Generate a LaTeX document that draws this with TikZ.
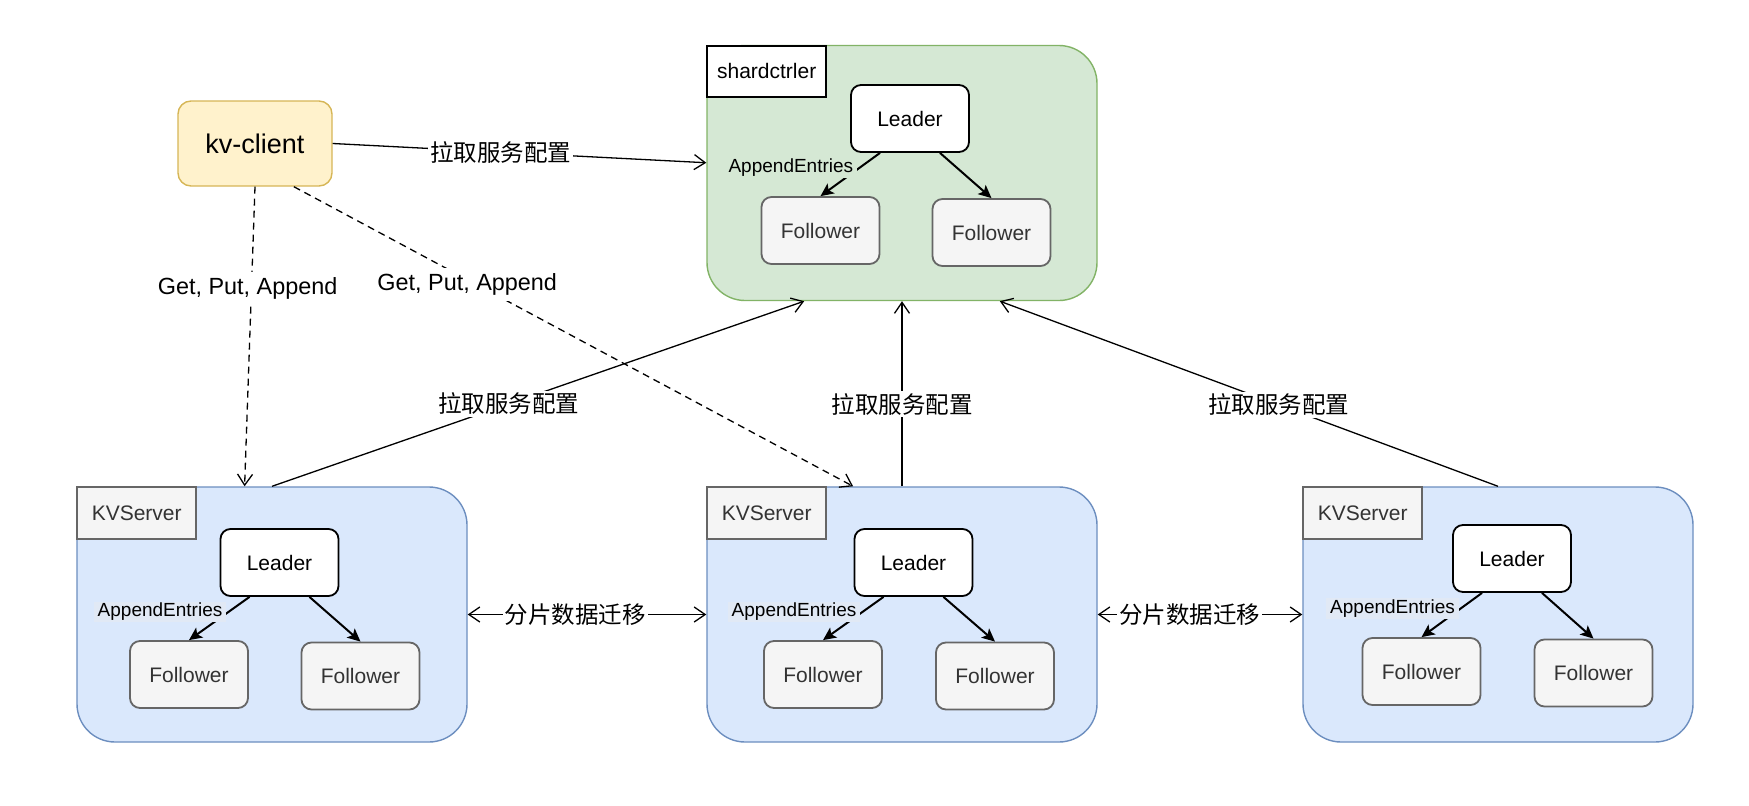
\documentclass[tikz,border=0pt]{standalone}
\usepackage{fontspec}
\setmainfont{Liberation Sans}
\newfontfamily\cjk{Noto Sans CJK SC}
\usetikzlibrary{arrows.meta,calc}

\definecolor{ctrlfill}{HTML}{D5E8D4}
\definecolor{ctrldraw}{HTML}{82B366}
\definecolor{srvfill}{HTML}{DAE8FC}
\definecolor{srvdraw}{HTML}{6C8EBF}
\definecolor{greyfill}{HTML}{F5F5F5}
\definecolor{greydraw}{HTML}{666666}
\definecolor{greytext}{HTML}{333333}
\definecolor{clientfill}{HTML}{FFF2CC}
\definecolor{clientdraw}{HTML}{D6B656}
\definecolor{entrybg}{HTML}{E1E9F5}

\tikzstyle{group}=[draw, line width=1.4pt, rounded corners=38pt, minimum width=390pt, minimum height=255pt, inner sep=0pt]
\tikzstyle{tag}=[draw, line width=1.8pt, anchor=north west, minimum width=119pt, minimum height=52pt, inner sep=0pt, font=\fontsize{21}{25}\selectfont]
\tikzstyle{leader}=[draw, fill=white, line width=1.8pt, rounded corners=10pt, minimum width=118pt, minimum height=67pt, inner sep=0pt, font=\fontsize{21}{25}\selectfont]
\tikzstyle{follower}=[leader, draw=greydraw, fill=greyfill, text=greytext]
\tikzstyle{client}=[draw=clientdraw, fill=clientfill, line width=1.4pt, rounded corners=13pt, minimum width=154pt, minimum height=85pt, inner sep=0pt, font=\fontsize{27}{32}\selectfont]
\tikzstyle{fleche}=[-{Straight Barb[length=11pt,width=15pt]}, line width=1.3pt]
\tikzstyle{migrate}=[{Straight Barb[length=11pt,width=15pt]}-{Straight Barb[length=11pt,width=15pt]}, line width=1.3pt]
\tikzstyle{raft}=[-{Stealth[length=13pt,width=12pt,inset=3pt]}, line width=2pt]
\tikzstyle{entry}=[pos=0.35, anchor=east, xshift=-1pt, fill=entrybg, inner xsep=4pt, inner ysep=1.5pt, font=\fontsize{19}{22}\selectfont]
\tikzstyle{fetch}=[fill=white, inner sep=2pt, font={\cjk\fontsize{23.5}{28}\selectfont}]
\tikzstyle{call}=[fill=white, inner xsep=2pt, inner ysep=6pt, font=\fontsize{23.4}{28}\selectfont]

\begin{document}
\begin{tikzpicture}[x=1pt, y=-1pt]
\useasboundingbox (0,0) rectangle (1749,806);

% shardctrler group
\node[group, fill=ctrlfill, draw=ctrldraw] (ctrl) at (902,173) {};
\node[tag, fill=white, draw=black, minimum height=51pt] (ctrltag) at (ctrl.north west) {shardctrler};
\node[leader] (leaderS) at (910,118.5) {Leader};
\node[follower] (followS1) at (820.5,230.5) {Follower};
\node[follower] (followS2) at (991.5,232.5) {Follower};
\draw[raft] ($(leaderS.south west)!0.25!(leaderS.south east)$) -- node[entry, fill=ctrlfill] (entryS) {AppendEntries} (followS1.north);
\draw[raft] ($(leaderS.south west)!0.75!(leaderS.south east)$) -- (followS2.north);

% KVServer groups
\foreach \s/\bx/\lx/\ly/\fa/\fb/\fy in {A/272/279.5/562.5/189/360.5/674.5, B/902/913.5/562.5/823/995/674.5, C/1498/1512/558.5/1421.5/1593.5/671.5}{
  \node[group, fill=srvfill, draw=srvdraw] (srv\s) at (\bx,614.5) {};
  \node[tag, fill=greyfill, draw=greydraw, text=greytext] (tag\s) at (srv\s.north west) {KVServer};
  \node[leader] (leader\s) at (\lx,\ly) {Leader};
  \node[follower] (follow\s1) at (\fa,\fy) {Follower};
  \node[follower] (follow\s2) at (\fb,\fy+1.5) {Follower};
  \draw[raft] ($(leader\s.south west)!0.25!(leader\s.south east)$) -- node[entry] (entry\s) {AppendEntries} (follow\s1.north);
  \draw[raft] ($(leader\s.south west)!0.75!(leader\s.south east)$) -- (follow\s2.north);
}

% client
\node[client] (client) at (255,143.5) {kv-client};
\draw[fleche] (client.east) -- node[fetch, pos=0.45] (fetchK) {拉取服务配置} ($(ctrl.north west)!0.46!(ctrl.south west)$);
\draw[fleche, dash pattern=on 7pt off 5pt] (client.south) -- node[call, pos=0.33, xshift=-4pt, yshift=-3pt] (callA) {Get, Put, Append} ($(srvA.north west)!0.43!(srvA.north east)$);
\draw[fleche, dash pattern=on 7pt off 5pt] ($(client.south west)!0.75!(client.south east)$) -- node[call, pos=0.31, yshift=-5pt] (callB) {Get, Put, Append} ($(srvB.north west)!0.375!(srvB.north east)$);

% servers fetch config
\draw[fleche] (srvA.north) -- node[fetch, pos=0.445] (fetchA) {拉取服务配置} ($(ctrl.south west)!0.25!(ctrl.south east)$);
\draw[fleche] (srvB.north) -- node[fetch, pos=0.444] (fetchB) {拉取服务配置} (ctrl.south);
\draw[fleche] (srvC.north) -- node[fetch, pos=0.44] (fetchC) {拉取服务配置} ($(ctrl.south west)!0.75!(ctrl.south east)$);

% shard migration
\draw[migrate] (srvA.east) -- node[fetch, pos=0.45] (moveAB) {分片数据迁移} (srvB.west);
\draw[migrate] (srvB.east) -- node[fetch, pos=0.45] (moveBC) {分片数据迁移} (srvC.west);
\end{tikzpicture}
\end{document}
